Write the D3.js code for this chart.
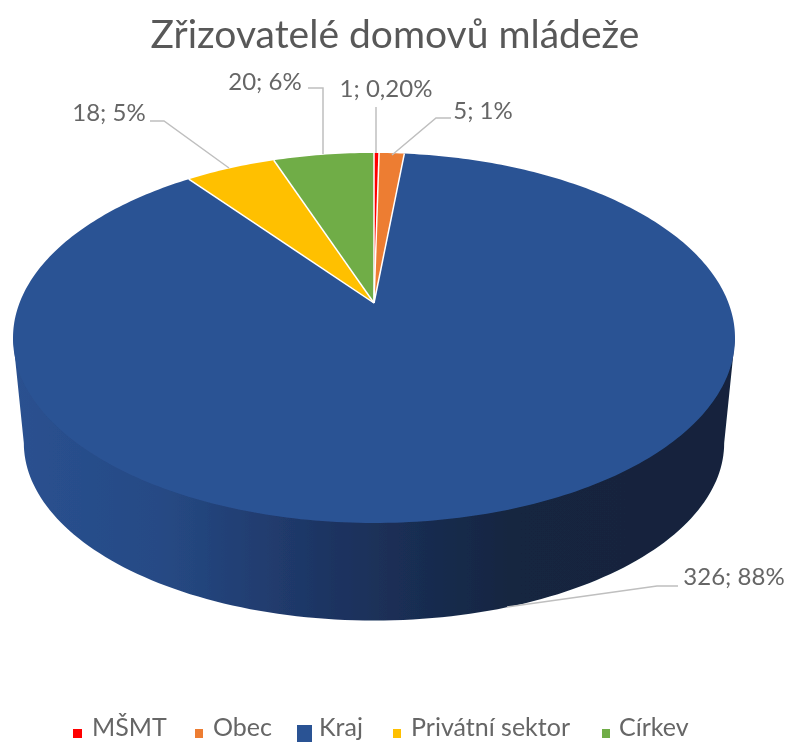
<!DOCTYPE html>
<html>
<head>
<meta charset="utf-8">
<script src="https://cdn.jsdelivr.net/npm/d3@7"></script>
<style>
  html, body { margin: 0; padding: 0; background: #fff; overflow: hidden; }
  svg { display: block; font-family: Lato, "Open Sans", sans-serif; }
</style>
</head>
<body>
<div id="chart"></div>
<script>
var categories = ["MŠMT", "Obec", "Kraj", "Privátní sektor", "Církev"];
var values = [1, 5, 326, 18, 20];
var percentLabels = ["0,20%", "1%", "88%", "5%", "6%"];
var colors = ["#ff0000", "#ed7d31", "#2c5394", "#ffc000", "#70ad47"];
var chartTitle = "Zřizovatelé domovů mládeže";

var width = 787, height = 742;

// label placement and leader lines, same order as categories
var labelPos = [[386, 97], [483, 119], [734, 585], [109, 121], [265, 90]];
var leaders = [
  [[376, 107], [376, 153]],
  [[451, 118], [436, 118], [392, 155]],
  [[678, 586], [657, 586], [507, 607]],
  [[150, 121], [164, 121], [229, 168]],
  [[308, 88], [323, 88], [323, 154]]
];
var legendSwatch = [[73, 729, 9, 9], [195, 729, 8, 9], [297, 725, 15, 17], [393, 729, 8, 9], [602, 729, 8, 9]];
var legendText = [92, 213, 319, 411, 619];

// tilted disc: circle angle -> screen point, hub sits above the ellipse centre
var hub = [374, 303], persp = -0.189, radY = 178.4, radX = 354.5;
function project(a) {
  var u = Math.sin(a), v = -Math.cos(a), w = 1 + persp * v;
  return [hub[0] + radX * u / w, hub[1] + radY * v / w];
}
// lower rim is the same ellipse, a bit smaller and shifted down
var rimCenterY = 338;
function projectLow(a) {
  var p = project(a);
  return [hub[0] + (p[0] - hub[0]) * 0.97, 443 + (p[1] - rimCenterY) * 0.96];
}

var svg = d3.select("#chart").append("svg")
  .attr("width", width)
  .attr("height", height);

var defs = svg.append("defs");
var grad = defs.append("linearGradient")
  .attr("id", "side")
  .attr("gradientUnits", "userSpaceOnUse")
  .attr("x1", 13).attr("x2", 735).attr("y1", 0).attr("y2", 0);
[[0, "#2a5190"], [0.2, "#264a85"], [0.45, "#1d3360"], [0.7, "#14253f"], [1, "#12233d"]].forEach(function(s) {
  grad.append("stop").attr("offset", s[0]).attr("stop-color", s[1]);
});
defs.append("filter").attr("id", "soft")
  .append("feGaussianBlur").attr("stdDeviation", 0.55);

var root = svg.append("g").attr("filter", "url(#soft)");

var pie = d3.pie().sort(null).value(function(d) { return d; });
var arcs = pie(values);
var line = d3.line();

// side wall of the disc, runs up under the top face so no seam shows
var edge = Math.acos(persp);
var front = d3.range(0, 121).map(function(i) { return edge + (2 * Math.PI - 2 * edge) * i / 120; });
var wall = [project(edge), hub, project(2 * Math.PI - edge)].concat(front.slice().reverse().map(projectLow));
root.append("path")
  .attr("d", line(wall) + "Z")
  .attr("fill", "url(#side)");

// top face
root.selectAll("path.slice")
  .data(arcs)
  .enter()
  .append("path")
    .attr("class", "slice")
    .attr("fill", function(d, i) { return colors[i]; })
    .attr("d", function(d) {
      var n = Math.max(2, Math.ceil((d.endAngle - d.startAngle) * 60));
      var pts = d3.range(n + 1).map(function(i) {
        return project(d.startAngle + (d.endAngle - d.startAngle) * i / n);
      });
      return line([hub].concat(pts)) + "Z";
    });

// white seams between slices
root.selectAll("line.seam")
  .data(arcs)
  .enter()
  .append("line")
    .attr("class", "seam")
    .attr("x1", hub[0])
    .attr("y1", hub[1])
    .attr("x2", function(d) { return project(d.startAngle)[0]; })
    .attr("y2", function(d) { return project(d.startAngle)[1]; })
    .attr("stroke", "#fff")
    .attr("stroke-width", 1.5);

root.selectAll("path.leader")
  .data(leaders)
  .enter()
  .append("path")
    .attr("class", "leader")
    .attr("d", function(d) { return line(d); })
    .attr("fill", "none")
    .attr("stroke", "#bfbfbf")
    .attr("stroke-width", 1.5);

root.append("text")
  .attr("x", 395)
  .attr("y", 48)
  .attr("text-anchor", "middle")
  .attr("font-size", 39)
  .attr("fill", "#595959")
  .text(chartTitle);

root.selectAll("text.label")
  .data(arcs)
  .enter()
  .append("text")
    .attr("class", "label")
    .attr("x", function(d, i) { return labelPos[i][0]; })
    .attr("y", function(d, i) { return labelPos[i][1]; })
    .attr("text-anchor", "middle")
    .attr("font-size", 24)
    .attr("fill", "#666")
    .text(function(d, i) { return d.value + "; " + percentLabels[i]; });

root.selectAll("rect.swatch")
  .data(categories)
  .enter()
  .append("rect")
    .attr("class", "swatch")
    .attr("x", function(d, i) { return legendSwatch[i][0]; })
    .attr("y", function(d, i) { return legendSwatch[i][1]; })
    .attr("width", function(d, i) { return legendSwatch[i][2]; })
    .attr("height", function(d, i) { return legendSwatch[i][3]; })
    .attr("fill", function(d, i) { return colors[i]; });

root.selectAll("text.legend")
  .data(categories)
  .enter()
  .append("text")
    .attr("class", "legend")
    .attr("x", function(d, i) { return legendText[i]; })
    .attr("y", 736)
    .attr("font-size", 25)
    .attr("fill", "#666")
    .text(function(d) { return d; });
</script>
</body>
</html>
